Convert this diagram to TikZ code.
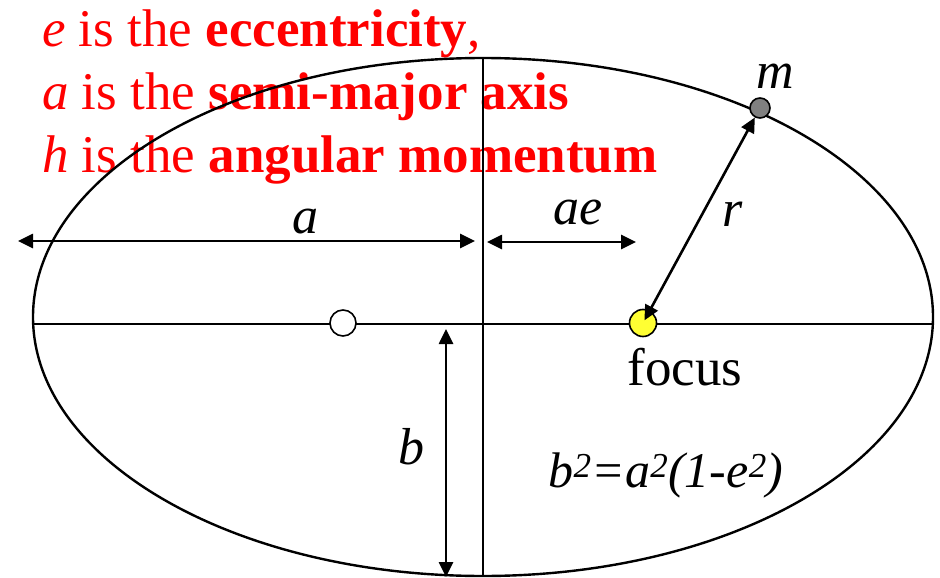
\documentclass[tikz,border=0pt]{standalone}
\usepackage{fontspec}
\setmainfont{Liberation Serif}
\usetikzlibrary{arrows.meta}
\begin{document}
\begin{tikzpicture}[x=1pt,y=-1pt,
  redline/.style={anchor=base west,inner sep=0pt,text=red,font=\fontsize{53}{63}\selectfont},
  lbl/.style={inner sep=0pt,font=\fontsize{52}{60}\selectfont\itshape},
  dimarrow/.style={line width=2.6pt,{Triangle[length=15pt,width=14pt]}-{Triangle[length=15pt,width=14pt]}},
  axis/.style={line width=1.8pt},
  dot/.style={circle,draw=black,line width=1.6pt,inner sep=0pt,minimum size=#1}]
\useasboundingbox (0,0) rectangle (940,578);
% red text
\node[redline] (t1) at (42,47) {\textit{e} is the \textbf{eccentricity},};
\node[redline] (t2) at (42,109) {\textit{a} is the \textbf{semi-major axis}};
\node[redline] (t3) at (42,172) {\textit{h} is the \textbf{angular momentum}};
% ellipse and axes
\draw[line width=2.4pt] (483,317) ellipse [x radius=450pt, y radius=259pt];
\coordinate (hl) at (33,324);
\coordinate (hr) at (933,324);
\coordinate (vt) at (483,57);
\coordinate (vb) at (483,576);
\draw[axis] (hl) -- (hr);
\draw[axis] (vt) -- (vb);
% points
\node[dot=26pt,fill=white] (c) at (343,323) {};
\node[dot=27pt,fill={rgb,255:red,255;green,255;blue,51}] (f) at (643,323) {};
\node[dot=20pt,fill={rgb,255:red,128;green,128;blue,128}] (m) at (760,108) {};
% dimension arrows
\coordinate (aL) at (18,241);
\coordinate (aR) at (475,241);
\coordinate (eL) at (487,242);
\coordinate (eR) at (636,242);
\coordinate (bT) at (446,329);
\coordinate (bB) at (446,577);
\draw[dimarrow] (aL) -- (aR);
\draw[dimarrow] (eL) -- (eR);
\draw[dimarrow] (bT) -- (bB);
\draw[dimarrow,shorten <=3pt] (f.center) -- (m);
% labels
\node[lbl] (la) at (305,222) {a};
\node[lbl] (lae) at (578,213) {ae};
\node[lbl] (lr) at (733,214) {r};
\node[lbl] (lb) at (411,447) {b};
\node[lbl] (lm) at (775,76) {m};
\node[inner sep=0pt,font=\fontsize{53}{60}\selectfont] (lf) at (685,367) {focus};
\node[inner sep=0pt,anchor=base,font=\fontsize{50}{60}\selectfont\itshape] (eq) at (666,487) {b\textsuperscript{2}=a\textsuperscript{2}(1-e\textsuperscript{2})};
\end{tikzpicture}
\end{document}
